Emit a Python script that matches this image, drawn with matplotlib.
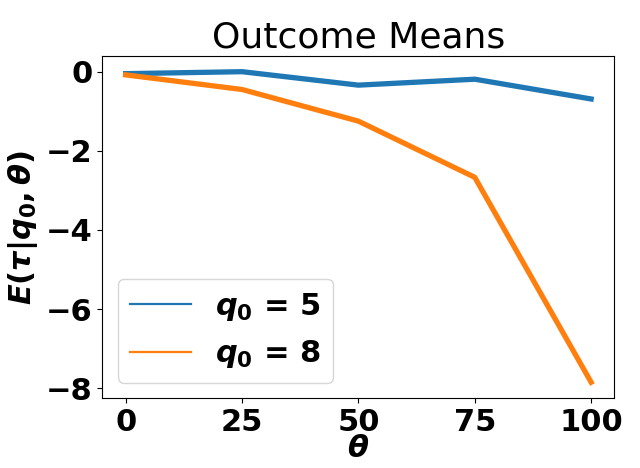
import matplotlib
matplotlib.use("Agg")
import matplotlib.pyplot as plt
from matplotlib.lines import Line2D

theta = [0, 25, 50, 75, 100]
q0_5 = [-0.05, 0.0, -0.34, -0.19, -0.69]
q0_8 = [-0.08, -0.45, -1.25, -2.67, -7.85]
labels = [r"$q_0$ = 5", r"$q_0$ = 8"]
yticks = [0, -2, -4, -6, -8]
xticks = [0, 25, 50, 75, 100]

plt.rcParams['mathtext.fontset'] = 'custom'
plt.rcParams['mathtext.it'] = 'DejaVu Sans:italic:bold'
plt.rcParams['mathtext.rm'] = 'DejaVu Sans:bold'
plt.rcParams['mathtext.bf'] = 'DejaVu Sans:bold'

fig, ax = plt.subplots(figsize=(6.4, 4.68), dpi=100)
c1, c2 = '#1f77b4', '#ff7f0e'
ax.plot(theta, q0_5, color=c1, lw=3.8)
ax.plot(theta, q0_8, color=c2, lw=3.8)
ax.set_xticks(xticks)
ax.set_yticks(yticks)
ax.tick_params(labelsize=22)
for t in ax.get_xticklabels() + ax.get_yticklabels():
    t.set_fontweight('bold')
ax.set_title("Outcome Means", fontsize=26)
ax.set_xlabel(r"$\theta$", fontsize=22, fontweight='bold', labelpad=-2)
ax.set_ylabel(r"$E(\tau|q_0, \theta)$", fontsize=22, fontweight='bold')
handles = [Line2D([], [], color=c1, lw=1.6), Line2D([], [], color=c2, lw=1.6)]
ax.legend(handles, labels, prop={'size': 22, 'weight': 'bold'}, loc='lower left')
fig.subplots_adjust(left=0.16, right=0.96, bottom=0.15, top=0.88)
fig.savefig("out.png", dpi=100)
